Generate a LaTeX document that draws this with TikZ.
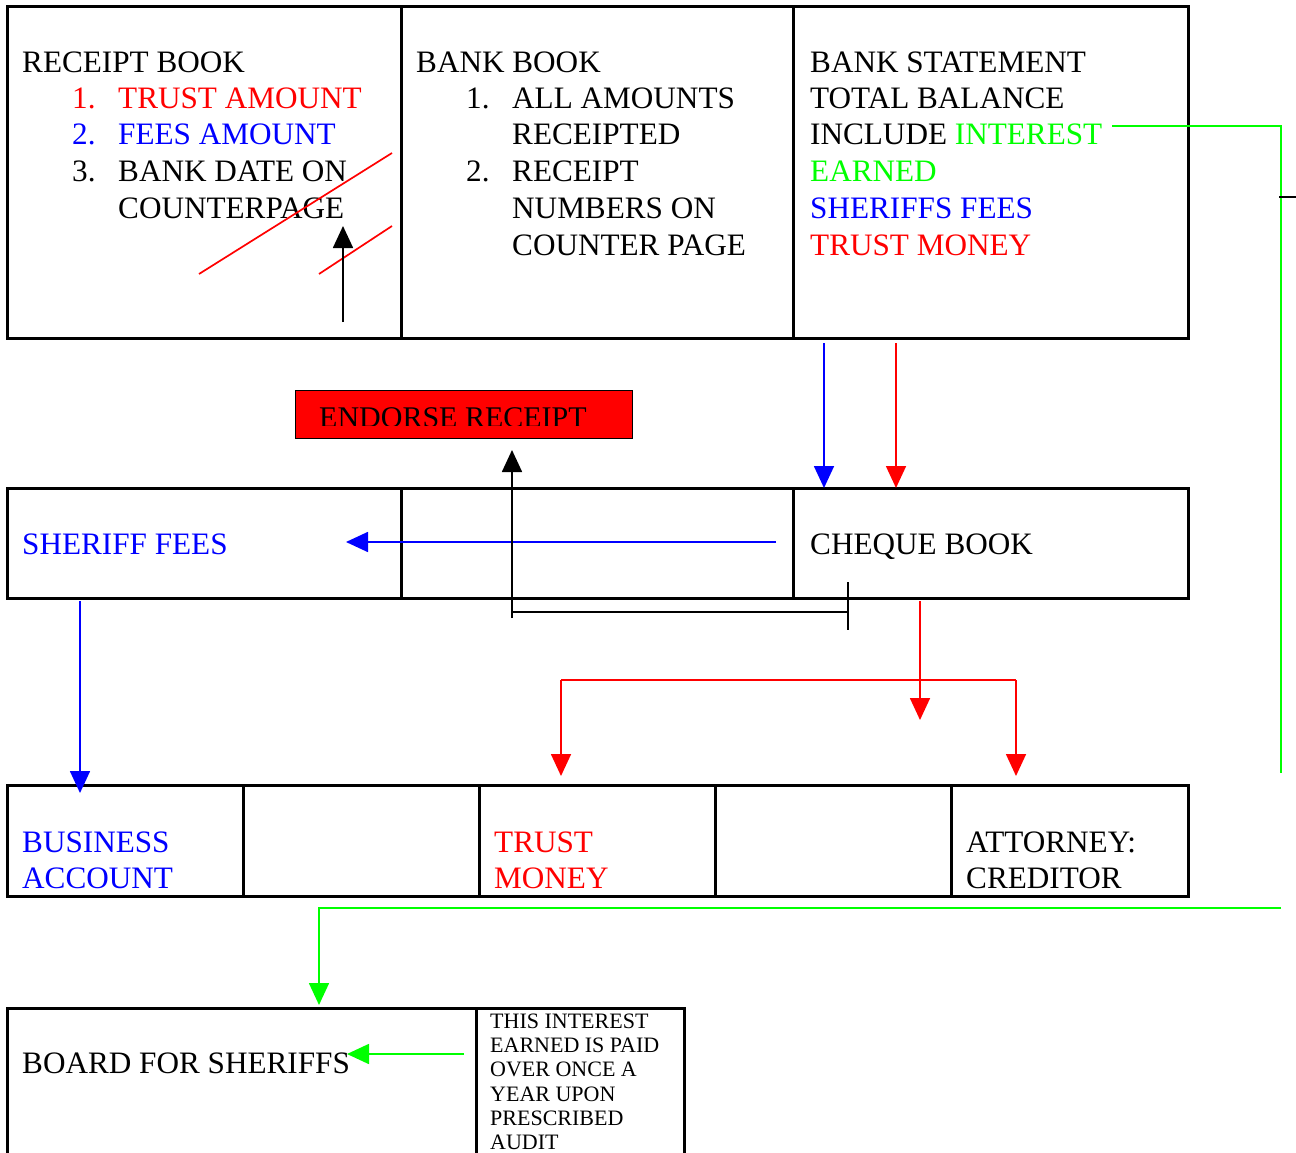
\documentclass[tikz,border=0pt]{standalone}
\usepackage{fontspec}
\setmainfont{Liberation Serif}
\usetikzlibrary{arrows.meta}
\definecolor{pred}{RGB}{255,0,0}
\definecolor{pblue}{RGB}{0,0,255}
\definecolor{pgreen}{RGB}{0,255,0}

\begin{document}
\begin{tikzpicture}[x=1pt,y=-1pt,
  cell/.style={draw=black,line width=3pt,anchor=north west,inner sep=0pt,outer sep=0pt},
  txt/.style={anchor=base west,inner sep=0pt,font=\fontsize{31.2}{36}\selectfont},
  small/.style={anchor=base west,inner sep=0pt,font=\fontsize{22}{24}\selectfont},
  arr/.style={-{Triangle[width=20pt,length=22pt]},line width=1.7pt},
  thin/.style={line width=1.7pt}]

\clip (0,0) rectangle (1296,1153);

% ---------- top row: receipt book, bank book, bank statement ----------
\node[cell,minimum width=394pt,minimum height=331pt] (rb) at (7,7) {};
\node[cell,minimum width=392pt,minimum height=331pt] (bb) at (401,7) {};
\node[cell,minimum width=395pt,minimum height=331pt] (bs) at (793,7) {};

\node[txt] (rbT) at (22,73) {RECEIPT BOOK};
\node[txt,text=pred] (rbN1) at (72,109) {1.};
\node[txt,text=pred] (rbL1) at (118,109) {TRUST AMOUNT};
\node[txt,text=pblue] (rbN2) at (72,145) {2.};
\node[txt,text=pblue] (rbL2) at (118,145) {FEES AMOUNT};
\node[txt] (rbN3) at (72,182) {3.};
\node[txt] (rbL3) at (118,182) {BANK DATE ON};
\node[txt] (rbL4) at (118,218) {COUNTERPAGE};

\node[txt] (bbT) at (416,73) {BANK BOOK};
\node[txt] (bbN1) at (466,109) {1.};
\node[txt] (bbL1) at (512,109) {ALL AMOUNTS};
\node[txt] (bbL2) at (512,145) {RECEIPTED};
\node[txt] (bbN2) at (466,182) {2.};
\node[txt] (bbL3) at (512,182) {RECEIPT};
\node[txt] (bbL4) at (512,218) {NUMBERS ON};
\node[txt] (bbL5) at (512,255) {COUNTER PAGE};

\node[txt] (bsT) at (810,73) {BANK STATEMENT};
\node[txt] (bsL1) at (810,109) {TOTAL BALANCE};
\node[txt] (bsL2) at (810,145) {INCLUDE \textcolor{pgreen}{INTEREST}};
\node[txt,text=pgreen] (bsL3) at (810,182) {EARNED};
\node[txt,text=pblue] (bsL4) at (810,218) {SHERIFFS FEES};
\node[txt,text=pred] (bsL5) at (810,255) {TRUST MONEY};

% strike-through marks and arrow in the receipt book
\coordinate (s1a) at (199,274); \coordinate (s1b) at (392,153);
\coordinate (s2a) at (319,274); \coordinate (s2b) at (392,226);
\draw[pred,thin] (s1a) -- (s1b);
\draw[pred,thin] (s2a) -- (s2b);
\coordinate (upA) at (343,322); \coordinate (upB) at (343,226);
\draw[arr] (upA) -- (upB);

% ---------- endorse receipt ----------
\node[draw=black,fill=pred,line width=1pt,anchor=north west,inner sep=0pt,outer sep=0pt,
      minimum width=337pt,minimum height=48pt] (end) at (295,390) {};
\begin{scope}
  \clip (295,390) rectangle (632,425);
  \node[anchor=base west,inner sep=0pt,font=\fontsize{30}{36}\selectfont] (endT) at (319,427) {ENDORSE RECEIPT};
\end{scope}

% ---------- middle row ----------
\node[cell,minimum width=394pt,minimum height=110pt] (m1) at (7,488) {};
\node[cell,minimum width=392pt,minimum height=110pt] (m2) at (401,488) {};
\node[cell,minimum width=395pt,minimum height=110pt] (m3) at (793,488) {};
\node[txt,text=pblue] (sf) at (22,554) {SHERIFF FEES};
\node[txt] (cb) at (810,554) {CHEQUE BOOK};

% statement to cheque book
\coordinate (bsB) at (824,343); \coordinate (cbB) at (824,488);
\coordinate (bsR) at (896,343); \coordinate (cbR) at (896,488);
\draw[arr,pblue] (bsB) -- (cbB);
\draw[arr,pred] (bsR) -- (cbR);

% cheque book to sheriff fees
\coordinate (cbL) at (776,542); \coordinate (sfR) at (346,542);
\draw[arr,pblue] (cbL) -- (sfR);

% cheque book bracket to endorse receipt
\coordinate (brT) at (848,582); \coordinate (brD) at (848,630);
\coordinate (brM) at (848,612); \coordinate (brL) at (512,612);
\coordinate (brE) at (512,618); \coordinate (endB) at (512,450);
\draw[thin] (brT) -- (brD);
\draw[thin] (brM) -- (brL);
\draw[arr] (brE) -- (endB);

% ---------- bottom row ----------
\node[cell,minimum width=236pt,minimum height=111pt] (b1) at (7,785) {};
\node[cell,minimum width=236pt,minimum height=111pt] (b2) at (243,785) {};
\node[cell,minimum width=236pt,minimum height=111pt] (b3) at (479,785) {};
\node[cell,minimum width=236pt,minimum height=111pt] (b4) at (715,785) {};
\node[cell,minimum width=237pt,minimum height=111pt] (b5) at (951,785) {};
\node[txt,text=pblue] (ba1) at (22,852) {BUSINESS};
\node[txt,text=pblue] (ba2) at (22,888) {ACCOUNT};
\node[txt,text=pred] (tm1) at (494,852) {TRUST};
\node[txt,text=pred] (tm2) at (494,888) {MONEY};
\node[txt] (ac1) at (966,852) {ATTORNEY:};
\node[txt] (ac2) at (966,888) {CREDITOR};

% sheriff fees to business account
\coordinate (sfB) at (80,601); \coordinate (baT) at (80,793);
\draw[arr,pblue] (sfB) -- (baT);

% cheque book to trust money and attorney
\coordinate (cbD) at (920,601); \coordinate (cbDt) at (920,720);
\draw[arr,pred] (cbD) -- (cbDt);
\coordinate (spL) at (561,680); \coordinate (spR) at (1016,680);
\coordinate (tmT) at (561,776); \coordinate (acT) at (1016,776);
\draw[arr,pred] (spL) -- (tmT);
\draw[arr,pred] (spR) -- (acT);
\draw[pred,thin] (spL) -- (spR);

% ---------- interest earned route ----------
\coordinate (intE) at (1112,126); \coordinate (gTR) at (1281,126);
\coordinate (gV) at (1281,773);
\draw[pgreen,thin] (intE) -- (gTR) -- (gV);
\coordinate (tkA) at (1279,197); \coordinate (tkB) at (1296,197);
\draw[line width=1.3pt] (tkA) -- (tkB);

\coordinate (gB) at (1281,908); \coordinate (gBL) at (319,908);
\coordinate (bsT2) at (319,1005);
\draw[arr,pgreen] (gB) -- (gBL) -- (bsT2);

% ---------- board for sheriffs ----------
\node[cell,minimum width=469pt,minimum height=200pt] (bfs) at (7,1008) {};
\node[cell,minimum width=208pt,minimum height=200pt] (note) at (476,1008) {};
\node[txt] (bfsT) at (22,1073) {BOARD FOR SHERIFFS};
\node[small] (n1) at (490,1028) {THIS INTEREST};
\node[small] (n2) at (490,1052) {EARNED IS PAID};
\node[small] (n3) at (490,1076) {OVER ONCE A};
\node[small] (n4) at (490,1101) {YEAR UPON};
\node[small] (n5) at (490,1125) {PRESCRIBED};
\node[small] (n6) at (490,1149) {AUDIT};
\coordinate (noteL) at (464,1054); \coordinate (bfsR) at (347,1054);
\draw[arr,pgreen] (noteL) -- (bfsR);

\end{tikzpicture}
\end{document}
